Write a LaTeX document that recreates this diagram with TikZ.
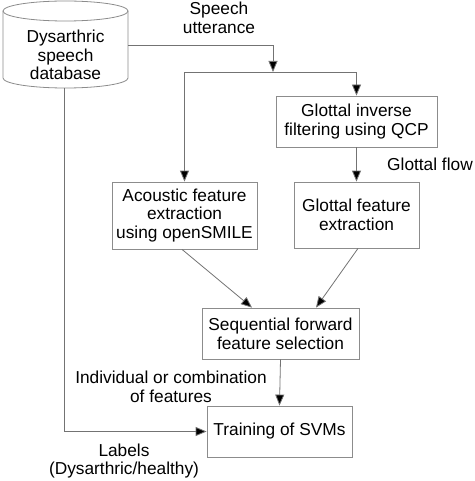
\documentclass[tikz,border=0pt]{standalone}
\usepackage{fontspec}
\setmainfont{Liberation Sans}
\usetikzlibrary{arrows.meta}

\tikzset{
  box/.style={draw=black!45,line width=.8pt,align=center,inner sep=0pt},
  lbl/.style={align=center,inner sep=0pt},
  conn/.style={draw=black!55,line width=.8pt},
  arr/.style={conn,-{Triangle[length=11pt,width=9pt,fill=black]}}
}

\begin{document}
\begin{tikzpicture}[x=1pt,y=-1pt,font=\fontsize{17.3}{18.8}\selectfont]
      \useasboundingbox (0,0) rectangle (474,481);

      % database
      \draw[draw=black!45,line width=.8pt] (3,11) -- (3,78) arc[start angle=180,end angle=0,x radius=62.5,y radius=10] -- (128,11);
      \draw[draw=black!45,line width=.8pt] (65.5,11) ellipse [x radius=62.5,y radius=10];
      \node[lbl] (db) at (65.5,55) {Dysarthric\\speech\\database};
      \coordinate (dbr) at (128,45);
      \coordinate (dbb) at (64,88);
      \coordinate (split) at (273,72);

      \node[box,minimum width=161,minimum height=51] (gif) at (356.5,121.5) {Glottal inverse\\filtering using QCP};
      \node[box,minimum width=125,minimum height=66] (glot) at (356.5,215) {Glottal feature\\extraction};
      \node[box,minimum width=145,minimum height=67] (acou) at (184.5,215.5) {Acoustic feature\\extraction\\using openSMILE};
      \node[box,minimum width=157,minimum height=51] (sffs) at (280.5,333.5) {Sequential forward\\feature selection};
      \node[box,minimum width=145,minimum height=51] (svm) at (279.5,431.5) {Training of SVMs};

      \node[lbl] (utt) at (219,18) {Speech\\utterance};
      \node[lbl,anchor=west] (flow) at (387,164) {Glottal flow};
      \node[lbl] (comb) at (171,387) {Individual or combination\\of features};
      \node[lbl] (labs) at (124,461) {Labels\\(Dysarthric/healthy)};

      \draw[arr] (dbr) -| (split);
      \draw[arr] (split) -| (acou.north);
      \draw[arr] (split) -| (gif.north);
      \draw[arr] (gif.south) -- (glot.north);
      \draw[arr] ([xshift=-2.5]acou.south) -- ([xshift=-28.5]sffs.north);
      \draw[arr] ([xshift=1.5]glot.south) -- ([xshift=35.5]sffs.north);
      \draw[arr] (sffs.south) -- (svm.north);
      \draw[arr] (dbb) |- (svm.west);
\end{tikzpicture}
\end{document}
